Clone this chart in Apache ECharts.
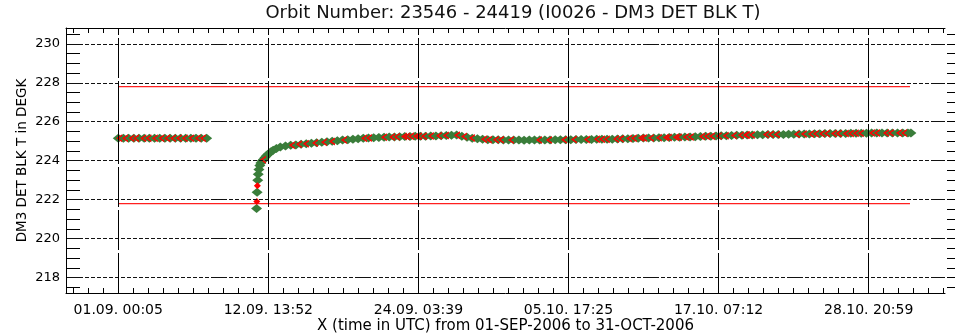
<!DOCTYPE html>
<html>
<head>
<meta charset="utf-8">
<script src="https://cdn.jsdelivr.net/npm/echarts@6/dist/echarts.min.js"></script>
<style>
  html, body { margin: 0; padding: 0; background: #fff; }
  #chart { width: 955px; height: 335px; }
</style>
</head>
<body>
<div id="chart"></div>
<script>
// ---------------- DATA (time = days since 01-SEP-2006 00:00 UTC) ----------------
const chartTitle = 'Orbit Number: 23546 - 24419 (I0026 - DM3 DET BLK T)';
const xAxisTitle = 'X (time in UTC) from 01-SEP-2006 to 31-OCT-2006';
const yAxisTitle = 'DM3 DET BLK T in DEGK';

const xTickLabels = ['01.09. 00:05', '12.09. 13:52', '24.09. 03:39', '05.10. 17:25', '17.10. 07:12', '28.10. 20:59'];
const yTickLabels = [218, 220, 222, 224, 226, 228, 230];

const xRange = [-4.027, 63.76];
const yRange = [217.21, 230.81];

const limitDays = [0.0035, 61.06];
const upperLimit = [227.8, 227.8];
const lowerLimit = [221.8, 221.8];

const greenDays = [
  0.0035, 0.4, 0.8, 1.2, 1.6, 2.0, 2.4, 2.8, 3.2, 3.6, 4.0, 4.4, 4.8, 5.2, 5.6, 6.0, 6.4, 6.82,
  10.67, 10.71, 10.76, 10.80, 10.85, 10.92, 11.0, 11.1, 11.2, 11.32, 11.45, 11.6, 11.78, 11.95,
  12.2, 12.5, 12.9, 13.3, 13.7, 14.1, 14.5, 14.9, 15.3, 15.7, 16.1, 16.5, 16.9, 17.3, 17.7,
  18.1, 18.5, 18.9, 19.3, 19.7, 20.1, 20.5, 20.9, 21.3, 21.7, 22.1, 22.5, 22.9, 23.3, 23.7,
  24.1, 24.5, 24.9, 25.3, 25.7, 26.1, 26.5, 26.9, 27.3, 27.7, 28.1, 28.5, 28.9, 29.3, 29.7,
  30.1, 30.5, 30.9, 31.3, 31.7, 32.1, 32.5, 32.9, 33.3, 33.7, 34.1, 34.5, 34.9, 35.3, 35.7,
  36.1, 36.5, 36.9, 37.3, 37.7, 38.1, 38.5, 38.9, 39.3, 39.7, 40.1, 40.5, 40.9, 41.3, 41.7,
  42.1, 42.5, 42.9, 43.3, 43.7, 44.1, 44.5, 44.9, 45.3, 45.7, 46.1, 46.5, 46.9, 47.3, 47.7,
  48.1, 48.5, 48.9, 49.3, 49.7, 50.1, 50.5, 50.9, 51.3, 51.7, 52.1, 52.5, 52.9, 53.3, 53.7,
  54.1, 54.5, 54.9, 55.3, 55.7, 56.1, 56.5, 56.9, 57.3, 57.7, 58.1, 58.5, 58.9, 59.3, 59.7,
  60.1, 60.5, 60.9, 61.13
];
const greenTemps = [
  225.15, 225.15, 225.15, 225.15, 225.15, 225.15, 225.15, 225.15, 225.15, 225.15, 225.15, 225.15, 225.15, 225.15, 225.15, 225.15, 225.15, 225.15,
  221.55, 222.38, 223.0, 223.3, 223.55, 223.75, 223.88, 223.98, 224.06, 224.16, 224.27, 224.36, 224.46, 224.54,
  224.62, 224.70, 224.75, 224.79, 224.81, 224.85, 224.87, 224.89, 224.92, 224.95, 224.97, 225.00, 225.03, 225.06, 225.08,
  225.10, 225.13, 225.15, 225.16, 225.18, 225.19, 225.20, 225.21, 225.22, 225.23, 225.24, 225.24, 225.25, 225.26, 225.26,
  225.27, 225.27, 225.28, 225.29, 225.31, 225.32, 225.26, 225.20, 225.15, 225.12, 225.10, 225.08, 225.07, 225.07, 225.06,
  225.06, 225.06, 225.06, 225.05, 225.06, 225.06, 225.06, 225.06, 225.06, 225.07, 225.07, 225.08, 225.08, 225.09, 225.09,
  225.09, 225.09, 225.10, 225.10, 225.10, 225.10, 225.11, 225.12, 225.13, 225.14, 225.15, 225.16, 225.16, 225.17, 225.18,
  225.18, 225.19, 225.20, 225.20, 225.21, 225.22, 225.23, 225.24, 225.25, 225.26, 225.27, 225.28, 225.28, 225.29, 225.30,
  225.31, 225.32, 225.32, 225.33, 225.33, 225.34, 225.34, 225.35, 225.35, 225.36, 225.36, 225.37, 225.37, 225.37, 225.38,
  225.38, 225.39, 225.39, 225.40, 225.40, 225.40, 225.41, 225.41, 225.41, 225.41, 225.42, 225.42, 225.42, 225.42, 225.42,
  225.42, 225.42, 225.42, 225.42
];

const redDays = [
  0.15, 0.6, 1.1, 1.45, 2.0, 2.4, 2.9, 3.4, 3.85, 4.3, 4.75, 5.2, 5.7, 6.2, 6.6,
  11.24, 13.47, 14.01, 14.55, 15.25, 15.94, 16.56, 17.48, 19.03, 19.41, 20.57, 21.19, 21.57, 22.11, 22.34, 22.65, 23.04,
  23.27, 23.65, 24.19, 24.81, 25.35, 26.2, 26.74, 27.35, 28.28, 28.66, 29.2, 29.59, 30.36, 32.52, 33.29, 34.45, 35.22,
  36.22, 36.99, 37.38, 37.76, 38.46, 38.84, 39.46, 39.84, 40.38, 40.61, 41.15, 41.77, 42.31, 42.54, 43.08, 43.31, 43.85,
  44.23, 45.09, 45.47, 45.86, 46.39, 46.93, 47.55, 48.09, 48.48,
  48.56, 48.94, 50.02, 50.41, 50.87, 52.41, 52.95, 53.49, 53.88, 54.34, 54.73, 55.27, 55.65, 56.19, 56.58, 56.96, 57.35,
  58.2, 58.59, 59.28, 59.66, 60.28, 60.67
];
const redTemps = [
  225.15, 225.15, 225.15, 225.15, 225.15, 225.15, 225.15, 225.15, 225.15, 225.15, 225.15, 225.15, 225.15, 225.15, 225.15,
  224.05, 224.79, 224.84, 224.87, 224.91, 224.95, 224.99, 225.06, 225.15, 225.17, 225.20, 225.22, 225.23, 225.24, 225.24, 225.25, 225.25,
  225.26, 225.26, 225.27, 225.28, 225.29, 225.30, 225.24, 225.17, 225.10, 225.08, 225.07, 225.07, 225.06, 225.06, 225.06, 225.07, 225.09,
  225.09, 225.10, 225.10, 225.10, 225.11, 225.12, 225.14, 225.15, 225.16, 225.16, 225.17, 225.18, 225.19, 225.19, 225.20, 225.20, 225.21,
  225.22, 225.24, 225.25, 225.26, 225.27, 225.28, 225.29, 225.31, 225.32,
  225.32, 225.32, 225.34, 225.34, 225.35, 225.36, 225.37, 225.37, 225.38, 225.38, 225.39, 225.39, 225.40, 225.40, 225.40, 225.41, 225.41,
  225.42, 225.42, 225.42, 225.42, 225.42, 225.42
];

const redDropDays = [10.69, 10.73];
const redDropTemps = [221.9, 222.72];

// ---------------- helpers (axes built from the tick label arrays) ----------------
const BASE = Date.UTC(2006, 8, 1, 0, 0);
function labelToDays(s) {
  const m = s.match(/(\d+)\.(\d+)\.\s+(\d+):(\d+)/);
  return (Date.UTC(2006, +m[2] - 1, +m[1], +m[3], +m[4]) - BASE) / 86400000;
}
const xTickValues = xTickLabels.map(labelToDays);
const xMinorStep = (xTickValues[1] - xTickValues[0]) / 10;
const xAllTicks = [];
for (let v = xTickValues[0]; v > xRange[0]; v -= xMinorStep) xAllTicks.push(v);
for (let v = xTickValues[0] + xMinorStep; v < xRange[1]; v += xMinorStep) xAllTicks.push(v);

const yMinorStep = (yTickLabels[1] - yTickLabels[0]) / 4;
const yAllTicks = [];
for (let v = yTickLabels[0]; v > yRange[0]; v -= yMinorStep) yAllTicks.push(v);
for (let v = yTickLabels[0] + yMinorStep; v < yRange[1]; v += yMinorStep) yAllTicks.push(+v.toFixed(3));

function zip(a, b) { return a.map((v, i) => [v, b[i]]); }

const FONT = 'DejaVu Sans';
const hDash = [];
for (let i = 0; i < 21; i++) hDash.push(4, 2);
hDash.push(16, 2);

const chart = echarts.init(document.getElementById('chart'), null, { renderer: 'canvas' });
chart.setOption({
  animation: false,
  backgroundColor: '#ffffff',
  textStyle: { fontFamily: FONT, color: '#000' },
  graphic: [{
    type: 'text', x: 513, y: 4,
    style: { text: chartTitle, fill: '#111', font: '18px "DejaVu Sans"', align: 'center', textAlign: 'center' }
  }],
  grid: { left: 66, right: 10, top: 28, bottom: 42, containLabel: false, outerBoundsMode: 'none' },
  xAxis: [{
    type: 'value', min: xRange[0], max: xRange[1], position: 'bottom',
    axisLine: { show: true, onZero: false, lineStyle: { color: '#000', width: 1 } },
    axisTick: { show: true, inside: true, length: 5, customValues: xAllTicks, lineStyle: { color: '#000' } },
    axisLabel: {
      customValues: xTickValues, margin: 10, fontSize: 14, color: '#000', fontFamily: FONT,
      formatter: v => { const i = xTickValues.findIndex(t => Math.abs(t - v) < 1e-6); return i >= 0 ? xTickLabels[i] : ''; }
    },
    splitLine: { show: false },
    name: xAxisTitle, nameLocation: 'middle', nameGap: 26, nameMoveOverlap: false,
    nameTextStyle: { fontSize: 15, color: '#000', fontFamily: FONT }
  }, {
    type: 'value', min: xRange[0], max: xRange[1], position: 'top',
    axisLine: { show: true, onZero: false, lineStyle: { color: '#000', width: 1 } },
    axisTick: { show: true, inside: true, length: 5, customValues: xAllTicks, lineStyle: { color: '#000' } },
    axisLabel: { show: false },
    splitLine: { show: false }
  }],
  yAxis: [{
    type: 'value', min: yRange[0], max: yRange[1], position: 'left',
    axisLine: { show: true, onZero: false, lineStyle: { color: '#000', width: 1 } },
    axisTick: { show: true, inside: true, length: 14, customValues: yAllTicks, lineStyle: { color: '#000' } },
    axisLabel: { customValues: yTickLabels, margin: 6, fontSize: 13, color: '#000', fontFamily: FONT },
    splitLine: { show: false },
    name: yAxisTitle, nameLocation: 'middle', nameGap: 37, nameMoveOverlap: false,
    nameTextStyle: { fontSize: 13.5, color: '#000', fontFamily: FONT }
  }, {
    type: 'value', min: yRange[0], max: yRange[1], position: 'right', offset: 10,
    axisLine: { show: false, onZero: false },
    axisTick: { show: true, inside: true, length: 8, customValues: yAllTicks, lineStyle: { color: '#000' } },
    axisLabel: { show: false },
    splitLine: { show: false }
  }],
  series: [
    {
      name: 'grid', type: 'line', data: [], z: 1, silent: true,
      markLine: {
        silent: true, symbol: ['none', 'none'], label: { show: false }, animation: false,
        data: [
          ...yTickLabels.map(v => ({ yAxis: v, lineStyle: { color: '#111', width: 1, type: hDash, dashOffset: 125 } })),
          ...xTickValues.map(v => ({ xAxis: v, lineStyle: { color: '#000', width: 1, type: [40, 3] } }))
        ]
      }
    },
    {
      name: 'upper limit', type: 'line', data: zip(limitDays, upperLimit), symbol: 'none', z: 2,
      lineStyle: { color: '#ff2020', width: 1.3 }
    },
    {
      name: 'lower limit', type: 'line', data: zip(limitDays, lowerLimit), symbol: 'none', z: 2,
      lineStyle: { color: '#ff2020', width: 1.3 }
    },
    {
      name: 'DM3 DET BLK T', type: 'scatter', data: zip(greenDays, greenTemps), z: 3,
      symbol: 'diamond', symbolSize: [11, 9], itemStyle: { color: '#3a7d3a', opacity: 1 }
    },
    {
      name: 'red marks', type: 'scatter', data: zip(redDays, redTemps), z: 4,
      symbol: 'path://M5,0 L0,4 L5,8 L5,6.2 L2.2,4 L5,1.8 Z', symbolSize: [6, 8], symbolOffset: [-1, 0],
      itemStyle: { color: '#ff0000', opacity: 1 }
    },
    {
      name: 'red drop', type: 'scatter', data: zip(redDropDays, redDropTemps), z: 4,
      symbol: 'diamond', symbolSize: 7, itemStyle: { color: '#ff0000', opacity: 1 }
    }
  ]
});
</script>
</body>
</html>
